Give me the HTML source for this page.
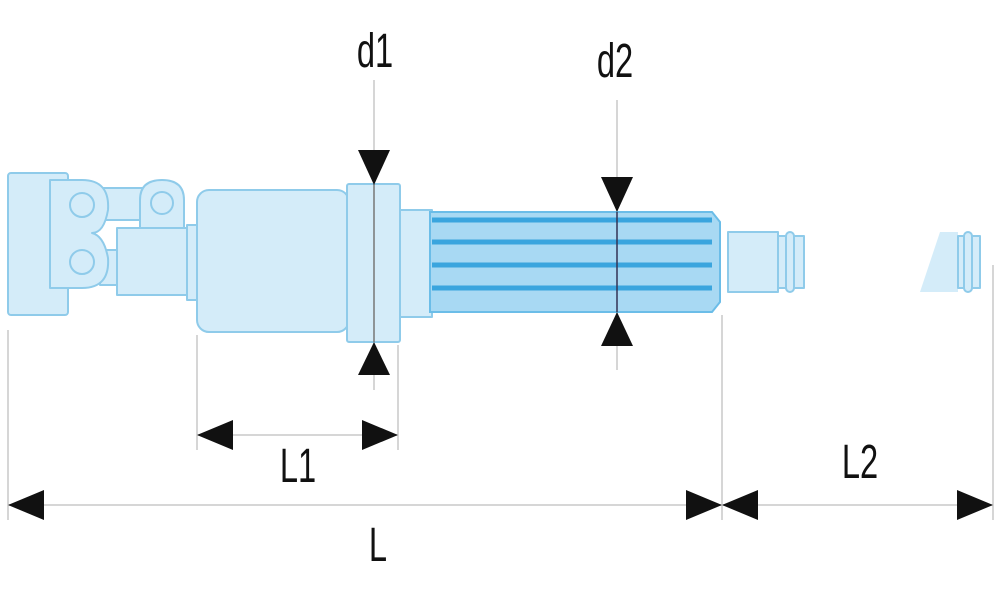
<!DOCTYPE html>
<html><head><meta charset="utf-8"><style>
html,body{margin:0;padding:0;background:#fff;width:1000px;height:590px;overflow:hidden}
text{font-family:"Liberation Sans",sans-serif;fill:#111}
</style></head><body>
<svg width="1000" height="590" viewBox="0 0 1000 590" xmlns="http://www.w3.org/2000/svg">
<g stroke="#d6d6d6" stroke-width="2" fill="none">
<line x1="8" y1="330" x2="8" y2="520"/>
<line x1="197" y1="335" x2="197" y2="450"/>
<line x1="398" y1="345" x2="398" y2="450"/>
<line x1="722" y1="315" x2="722" y2="520"/>
<line x1="993" y1="265" x2="993" y2="520"/>
<line x1="8" y1="505" x2="993" y2="505"/>
<line x1="197" y1="435" x2="398" y2="435"/>
<line x1="374" y1="80" x2="374" y2="390"/>
<line x1="617" y1="100" x2="617" y2="370"/>
</g>
<g fill="#d4ecf9" stroke="#8fcbea" stroke-width="2" stroke-linejoin="round">
<rect x="8" y="173" width="60" height="142" rx="3"/>
<rect x="100" y="188" width="45" height="32"/>
<rect x="100" y="250" width="20" height="35"/>
<path d="M50 180 H82 Q110 180 108 210 Q104 233 92 233 Q104 236 108 258 Q110 288 82 288 H50 Z"/>
<circle cx="82" cy="205" r="12" fill="none"/>
<circle cx="82" cy="262" r="12" fill="none"/>
<path d="M140 230 V200 Q140 180 162 180 Q184 180 184 200 V230 Z"/>
<circle cx="162" cy="203" r="11" fill="none"/>
<rect x="117" y="228" width="70" height="67"/>
<rect x="187" y="225" width="12" height="75"/>
<rect x="197" y="190" width="152" height="142" rx="12"/>
<rect x="347" y="184" width="53" height="158" rx="2"/>
<rect x="400" y="210" width="32" height="107"/>
<path d="M728 232 H778 V292 H728 Z"/>
<rect x="778" y="236" width="8" height="52"/>
<rect x="786" y="232" width="8" height="60" rx="4"/>
<rect x="794" y="236" width="10" height="52"/>
<path d="M940 232 H958 V292 H920 Z" stroke="none"/>
<rect x="958" y="236" width="6" height="52"/>
<rect x="964" y="232" width="8" height="60" rx="4"/>
<rect x="972" y="236" width="8" height="52"/>
</g>
<path d="M430 212 H712 L720 222 V302 L712 312 H430 Z" fill="#a8d9f3" stroke="#6bbde8" stroke-width="2"/>
<g stroke="#3aa5de" stroke-width="5">
<line x1="432" y1="220" x2="712" y2="220"/>
<line x1="432" y1="242" x2="712" y2="242"/>
<line x1="432" y1="265" x2="712" y2="265"/>
<line x1="432" y1="288" x2="712" y2="288"/>
</g>
<line x1="374" y1="184" x2="374" y2="342" stroke="#777" stroke-width="1.5"/>
<line x1="617" y1="212" x2="617" y2="312" stroke="#335" stroke-width="1.5"/>
<g fill="#111">
<path d="M358 150 H390 L374 185 Z"/>
<path d="M358 375 H390 L374 342 Z"/>
<path d="M601 177 H633 L617 212 Z"/>
<path d="M601 346 H633 L617 312 Z"/>
<path d="M197 435 L233 420 V450 Z"/>
<path d="M398 435 L362 420 V450 Z"/>
<path d="M8 505 L44 490 V520 Z"/>
<path d="M722 505 L686 490 V520 Z"/>
<path d="M722 505 L758 490 V520 Z"/>
<path d="M993 505 L957 490 V520 Z"/>
</g>
<g font-size="48" text-anchor="middle">
<text transform="translate(375,67) scale(0.68,1)">d1</text>
<text transform="translate(615,77) scale(0.68,1)">d2</text>
<text transform="translate(298,482) scale(0.68,1)">L1</text>
<text transform="translate(860,478) scale(0.68,1)">L2</text>
<text transform="translate(378,561) scale(0.68,1)">L</text>
</g>
</svg>
</body></html>
